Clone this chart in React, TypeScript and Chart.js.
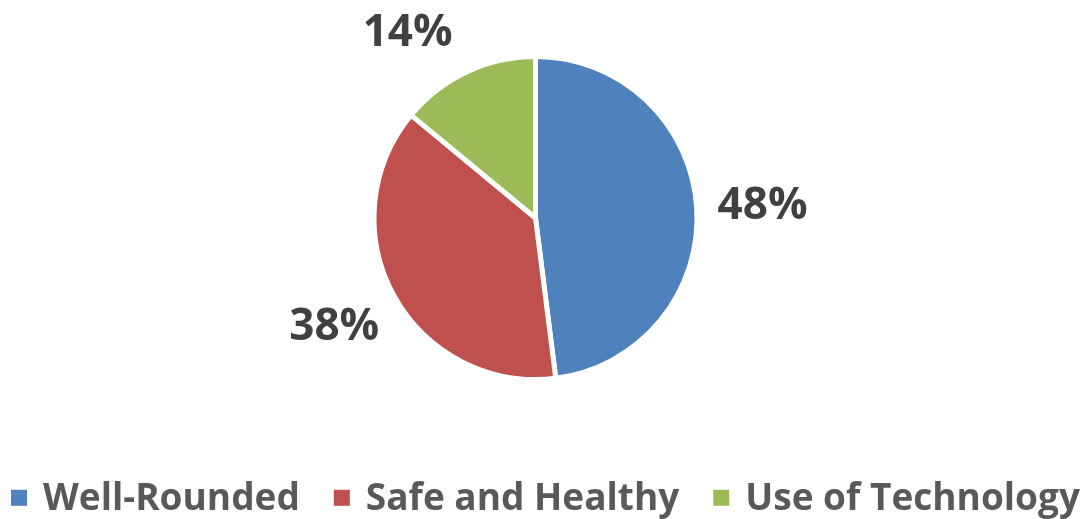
import React, { useEffect, useRef } from "react";
import { Chart, registerables } from "chart.js";

Chart.register(...registerables);

const categories = ["Well-Rounded", "Safe and Healthy", "Use of Technology"];
const values = [48, 38, 14];
const valueLabels = ["48%", "38%", "14%"];
const colors = ["#4F81BD", "#C0504D", "#9BBB59"];

const FONT = "'Open Sans', 'DejaVu Sans', sans-serif";

const labelPlugin = {
  id: "outsideLabels",
  afterDatasetsDraw(chart: any, _args: any, opts: any) {
    const ctx = chart.ctx;
    const meta = chart.getDatasetMeta(0);
    const shifts: number[] = opts.angleShift || [];
    ctx.save();
    ctx.font = `bold ${opts.fontSize}px ${FONT}`;
    ctx.fillStyle = opts.color;
    ctx.textAlign = "center";
    ctx.textBaseline = "alphabetic";
    meta.data.forEach((arc: any, i: number) => {
      const p = arc.getProps(["x", "y", "startAngle", "endAngle", "outerRadius"], true);
      const mid = (p.startAngle + p.endAngle) / 2 + ((shifts[i] || 0) * Math.PI) / 180;
      const d = p.outerRadius + opts.distance;
      const cx = p.x + Math.cos(mid) * d;
      const cy = p.y + Math.sin(mid) * d;
      ctx.fillText(valueLabels[i], cx, cy + (opts.fontSize * 0.714) / 2);
    });
    ctx.restore();
  },
};

const legendPlugin = {
  id: "bottomLegend",
  afterDraw(chart: any, _args: any, opts: any) {
    const ctx = chart.ctx;
    ctx.save();
    ctx.font = `bold ${opts.fontSize}px ${FONT}`;
    const widths = categories.map((c) => ctx.measureText(c).width);
    const box = opts.box;
    const gapBox = opts.boxGap;
    const gapItem = opts.itemGap;
    const total =
      widths.reduce((a, w) => a + w + box + gapBox, 0) + gapItem * (categories.length - 1);
    let x = chart.width / 2 - total / 2 + opts.shiftX;
    const baseline = opts.baseline;
    const capMid = baseline - (opts.fontSize * 0.714) / 2;
    categories.forEach((c, i) => {
      ctx.fillStyle = colors[i];
      ctx.fillRect(x, capMid - box / 2 + 1, box, box);
      x += box + gapBox;
      ctx.fillStyle = opts.color;
      ctx.textAlign = "left";
      ctx.textBaseline = "alphabetic";
      ctx.fillText(c, x, baseline);
      x += widths[i] + gapItem;
    });
    ctx.restore();
  },
};

export default function App() {
  const ref = useRef<HTMLCanvasElement | null>(null);
  useEffect(() => {
    if (!ref.current) return;
    const chart = new Chart(ref.current, {
      type: "pie",
      data: {
        labels: categories,
        datasets: [
          {
            data: values,
            backgroundColor: colors,
            borderColor: "#FFFFFF",
            borderWidth: 5,
            radius: 161.5,
            hoverOffset: 0,
          } as any,
        ],
      },
      options: {
        responsive: false,
        animation: false,
        layout: { padding: { left: 0, right: 16, top: 0, bottom: 83 } },
        plugins: {
          legend: { display: false },
          tooltip: { enabled: false },
          outsideLabels: {
            fontSize: 44,
            color: "#404040",
            distance: 66,
            angleShift: [0, 1, -9],
          },
          bottomLegend: {
            fontSize: 37,
            color: "#595959",
            box: 16,
            boxGap: 16,
            itemGap: 34,
            baseline: 510,
            shiftX: 2,
          },
        } as any,
      },
      plugins: [labelPlugin, legendPlugin],
    });
    return () => chart.destroy();
  }, []);
  return (
    <div style={{ position: "fixed", left: 0, top: 0, width: 1087, height: 519, background: "#fff" }}>
      <canvas ref={ref} width={1087} height={519} style={{ display: "block" }} />
    </div>
  );
}
